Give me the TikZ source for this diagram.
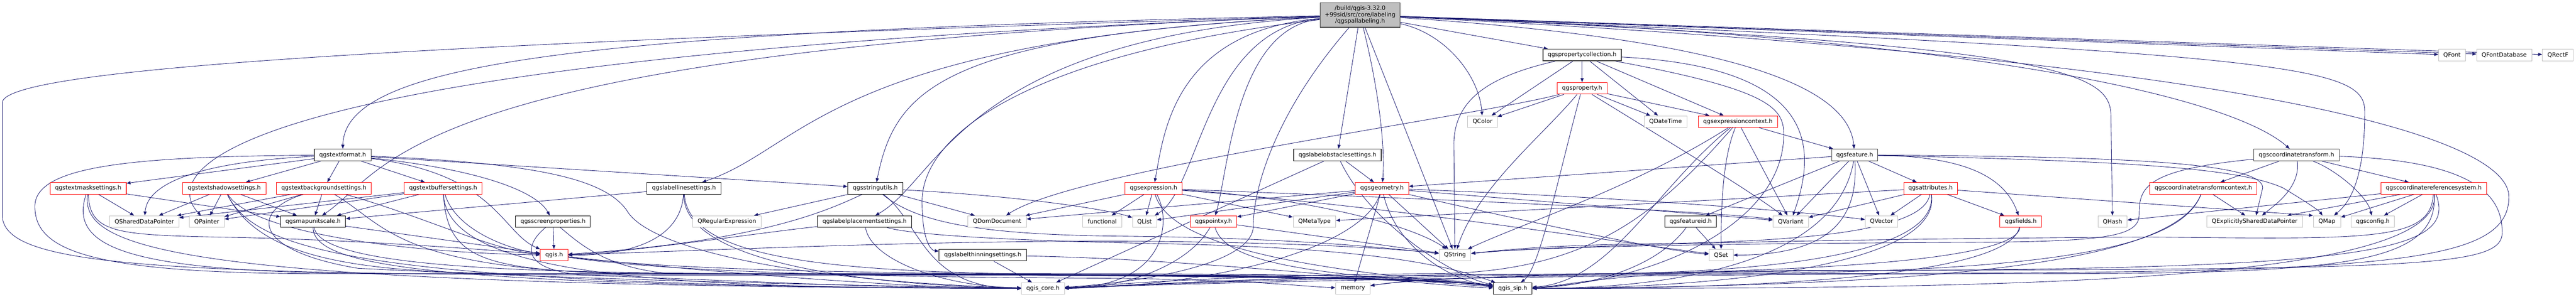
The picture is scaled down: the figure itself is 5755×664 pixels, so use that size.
\documentclass[tikz,border=0pt]{standalone}
\usepackage{fontspec}
\setmainfont{DejaVu Sans}
\usepackage{tikz}
\usetikzlibrary{arrows.meta}
\usetikzlibrary{backgrounds}
\definecolor{edgeblue}{HTML}{191970}
\definecolor{boxgrey}{HTML}{BFBFBF}
\definecolor{boxdark}{HTML}{404040}
\definecolor{boxred}{HTML}{FF0000}
\begin{document}
\begin{tikzpicture}[x=1pt,y=-1pt,
  incl/.style={draw=edgeblue,line width=1pt,-{Triangle[length=9pt,width=7pt]}},
  hdr/.style={draw=black,line width=1.2pt,fill=white,minimum height=26pt,inner sep=0pt,font=\fontsize{13}{14.5}\selectfont},
  hdrdark/.style={hdr,draw=boxdark,line width=1.6pt},
  hdrred/.style={hdr,draw=boxred},
  sysinc/.style={hdr,draw=boxgrey},
  rootfile/.style={hdr,draw=boxdark,fill=boxgrey,minimum height=55pt,align=center}]
\useasboundingbox (0,0) rectangle (5755,664);

%the labeling header at the top
\node[rootfile,minimum width=179] (top) at (3038.5,33.5) {/build/qgis-3.32.0\\+99sid/src/core/labeling\\/qgspallabeling.h};

%rank 1 to 3
\node[hdrdark,minimum width=175] (pcoll) at (3534.5,123) {qgspropertycollection.h};
\node[sysinc,minimum width=60] (qfont) at (5478,123) {QFont};
\node[sysinc,minimum width=123] (qfontdb) at (5594.5,123) {QFontDatabase};
\node[sysinc,minimum width=69] (qrectf) at (5714.5,123) {QRectF};
\node[hdrred,minimum width=111] (prop) at (3534.5,197.5) {qgsproperty.h};
\node[sysinc,minimum width=66] (qcolor) at (3312,272) {QColor};
\node[sysinc,minimum width=96] (qdatetime) at (3721,272) {QDateTime};
\node[hdrred,minimum width=177] (exprctx) at (3882.5,272) {qgsexpressioncontext.h};

%rank 4
\node[hdrdark,minimum width=127] (textformat) at (765.5,346.5) {qgstextformat.h};
\node[hdrdark,minimum width=196] (obstacle) at (2988,346.5) {qgslabelobstaclesettings.h};
\node[hdrdark,minimum width=103] (feature) at (4143.5,346.5) {qgsfeature.h};
\node[hdrdark,minimum width=191] (ctransform) at (5130.5,346.5) {qgscoordinatetransform.h};

%rank 5
\node[hdrred,minimum width=170] (textmask) at (197,421) {qgstextmasksettings.h};
\node[hdrred,minimum width=186] (textshadow) at (501,421) {qgstextshadowsettings.h};
\node[hdrred,minimum width=211] (textbg) at (723.5,421) {qgstextbackgroundsettings.h};
\node[hdrred,minimum width=174] (textbuffer) at (990,421) {qgstextbuffersettings.h};
\node[hdr,minimum width=166] (lineset) at (1528,421) {qgslabellinesettings.h};
\node[hdr,minimum width=123] (strutils) at (1955.5,421) {qgsstringutils.h};
\node[hdrred,minimum width=128] (expression) at (2577,421) {qgsexpression.h};
\node[hdrred,minimum width=119] (geometry) at (3087.5,421) {qgsgeometry.h};
\node[hdrred,minimum width=120] (attributes) at (4313,421) {qgsattributes.h};
\node[hdrred,minimum width=239] (ctcontext) at (4922.5,421) {qgscoordinatetransformcontext.h};
\node[hdrred,minimum width=236] (crs) at (5437,421) {qgscoordinatereferencesystem.h};

%rank 6
\node[sysinc,minimum width=155] (qshared) at (322.5,495.5) {QSharedDataPointer};
\node[sysinc,minimum width=78] (qpainter) at (462,495.5) {QPainter};
\node[hdr,minimum width=145] (mapunit) at (699.5,495.5) {qgsmapunitscale.h};
\node[hdr,minimum width=167] (screen) at (1235.5,495.5) {qgsscreenproperties.h};
\node[sysinc,minimum width=154] (qregexp) at (1624,495.5) {QRegularExpression};
\node[hdr,minimum width=211] (placement) at (1931.5,495.5) {qgslabelplacementsettings.h};
\node[sysinc,minimum width=131] (qdom) at (2227.5,495.5) {QDomDocument};
\node[sysinc,minimum width=87] (functional) at (2462.5,495.5) {functional};
\node[sysinc,minimum width=54] (qlist) at (2557,495.5) {QList};
\node[hdrred,minimum width=104] (pointxy) at (2711,495.5) {qgspointxy.h};
\node[sysinc,minimum width=95] (qmetatype) at (2936.5,495.5) {QMetaType};
\node[hdr,minimum width=116] (featureid) at (3777,495.5) {qgsfeatureid.h};
\node[sysinc,minimum width=79] (qvariant) at (4000.5,495.5) {QVariant};
\node[sysinc,minimum width=73] (qvector) at (4203.5,495.5) {QVector};
\node[hdrred,minimum width=93] (fields) at (4514.5,495.5) {qgsfields.h};
\node[sysinc,minimum width=65] (qhash) at (4719.5,495.5) {QHash};
\node[sysinc,minimum width=214] (qexpl) at (5037,495.5) {QExplicitlySharedDataPointer};
\node[sysinc,minimum width=61] (qmap) at (5198.5,495.5) {QMap};
\node[sysinc,minimum width=96] (qgsconfig) at (5301,495.5) {qgsconfig.h};

%rank 7 and 8
\node[hdrred,minimum width=62] (qgis) at (1238,570.5) {qgis.h};
\node[hdr,minimum width=195] (thinning) at (2195.5,570.5) {qgslabelthinningsettings.h};
\node[sysinc,minimum width=71] (qstring) at (3250.5,570.5) {QString};
\node[sysinc,minimum width=54] (qset) at (3845,570.5) {QSet};
\node[sysinc,minimum width=96] (qgiscore) at (2330,645) {qgis\_core.h};
\node[sysinc,minimum width=77] (memory) at (3022.5,645) {memory};
\node[hdr,minimum width=87] (qgissip) at (3379.5,645) {qgis\_sip.h};

\begin{pgfonlayer}{background}
%includes of the top header
\draw[incl] (top) -- (pcoll);
\draw[incl] (top) -- (qfont);
\draw[incl] (top) -- (qfontdb);
\draw[incl] (top) -- (qrectf);
\draw[incl] (top) .. controls (3230,75) and (3305,170) .. (qcolor);
\draw[incl] (top) .. controls (1300,70) and (770,140) .. (textformat);
\draw[incl] (top) -- (obstacle);
\draw[incl] (top) .. controls (3900,90) and (4130,200) .. (feature);
\draw[incl] (top) .. controls (4500,85) and (5000,230) .. (ctransform);
\draw[incl] (top) .. controls (2100,80) and (2000,200) .. (strutils);
\draw[incl] (top) .. controls (1850,90) and (1800,330) .. (lineset);
\draw[incl] (top) .. controls (900,110) and (870,380) .. (mapunit);
\draw[incl] (top) .. controls (380,130) and (370,400) .. (qpainter);
\draw[incl] (top) .. controls (2150,85) and (2100,400) .. (placement);
\draw[incl] (top) .. controls (2620,70) and (2600,300) .. (expression);
\draw[incl] (top) .. controls (2690,65) and (2683,420) .. (qlist);
\draw[incl] (top) .. controls (2760,62) and (2745,380) .. (pointxy);
\draw[incl] (top) .. controls (3080,200) and (3095,330) .. (geometry);
\draw[incl] (top) -- (qstring);
\draw[incl] (top) .. controls (4600,100) and (4716,160) .. (4716,260) -- (qhash);
\draw[incl] (top) .. controls (5150,120) and (5283,150) .. (5283,250) .. controls (5283,420) and (5240,460) .. (qmap);
\draw[incl] (top) .. controls (2300,120) and (2060,300) .. (2060,450) .. controls (2060,540) and (2080,560) .. (thinning);
\draw[incl] (top) .. controls (2850,250) and (2800,420) .. (2800,505) .. controls (2800,600) and (2500,635) .. (qgiscore);
\draw[incl] (top) .. controls (1000,95) and (5,150) .. (5,230) -- (5,480) .. controls (5,590) and (300,615) .. (1500,615) .. controls (2600,615) and (3150,615) .. (qgissip);
\draw[incl] (top) .. controls (5000,130) and (5605,300) .. (5605,440) .. controls (5605,600) and (5300,610) .. (4000,612) .. controls (3300,615) and (3150,625) .. (memory);

%property collection and property
\draw[incl] (pcoll) -- (prop);
\draw[incl] (pcoll) -- (qcolor);
\draw[incl] (pcoll) -- (qdatetime);
\draw[incl] (pcoll) -- (exprctx);
\draw[incl] (pcoll) .. controls (4060,150) and (4060,330) .. (qvariant);
\draw[incl] (pcoll) .. controls (3330,170) and (3250,220) .. (3248,320) -- (qstring);
\draw[incl] (pcoll) .. controls (3950,200) and (3985,240) .. (3985,300) .. controls (3985,500) and (3700,630) .. (qgissip);
\draw[incl] (prop) -- (qcolor);
\draw[incl] (prop) -- (qdatetime);
\draw[incl] (prop) -- (exprctx);
\draw[incl] (prop) .. controls (3700,300) and (3900,420) .. (qvariant);
\draw[incl] (prop) .. controls (3450,300) and (3300,420) .. (qstring);
\draw[incl] (prop) .. controls (3480,400) and (3440,600) .. (qgissip);
\draw[incl] (prop) .. controls (3300,260) and (2400,380) .. (qdom);

%expression context
\draw[incl] (exprctx) -- (feature);
\draw[incl] (exprctx) -- (qvariant);
\draw[incl] (exprctx) .. controls (3850,350) and (3845,450) .. (qset);
\draw[incl] (exprctx) .. controls (3650,420) and (3400,500) .. (qstring);
\draw[incl] (exprctx) .. controls (3700,480) and (3550,610) .. (3200,612) .. controls (2700,615) and (2450,640) .. (qgiscore);
\draw[incl] (exprctx) .. controls (3700,420) and (3600,630) .. (qgissip);

%feature and its parts
\draw[incl] (feature) -- (attributes);
\draw[incl] (feature) -- (qvector);
\draw[incl] (feature) .. controls (4400,350) and (4480,400) .. (fields);
\draw[incl] (feature) -- (qvariant);
\draw[incl] (feature) -- (featureid);
\draw[incl] (feature) -- (geometry);
\draw[incl] (feature) .. controls (4150,470) and (4110,570) .. (qset);
\draw[incl] (feature) .. controls (4700,350) and (5055,360) .. (5055,420) -- (qexpl);
\draw[incl] (feature) .. controls (4750,360) and (5000,375) .. (5100,420) .. controls (5150,450) and (5180,470) .. (qmap);
\draw[incl] (feature) .. controls (4100,600) and (3700,645) .. (qgissip);
\draw[incl] (attributes) -- (qvector);
\draw[incl] (attributes) -- (fields);
\draw[incl] (attributes) -- (qmap.north west);
\draw[incl] (attributes) -- (qvariant);
\draw[incl] (attributes) -- (qmetatype);
\draw[incl] (attributes) .. controls (4300,520) and (4000,540) .. (3700,545) .. controls (3450,548) and (3350,560) .. (qstring);
\draw[incl] (attributes) .. controls (4330,560) and (4000,612) .. (3500,613) .. controls (2900,615) and (2500,640) .. (qgiscore);
\draw[incl] (attributes) .. controls (4340,600) and (3800,645) .. (qgissip);
\draw[incl] (fields) .. controls (4500,600) and (3800,612) .. (3400,613) .. controls (2900,615) and (2500,640) .. (qgiscore);
\draw[incl] (fields) .. controls (4480,640) and (3700,645) .. (qgissip);
\draw[incl] (featureid) -- (qset);
\draw[incl] (featureid) .. controls (3700,600) and (3550,640) .. (qgissip);

%coordinate transform and reference system
\draw[incl] (ctransform) -- (ctcontext);
\draw[incl] (ctransform) .. controls (5140,420) and (5080,460) .. (qexpl);
\draw[incl] (ctransform) -- (crs);
\draw[incl] (ctransform) .. controls (5220,380) and (5290,440) .. (qgsconfig);
\draw[incl] (ctransform) .. controls (4790,380) and (4779,420) .. (4779,480) .. controls (4779,530) and (4700,540) .. (4400,542) .. controls (3700,545) and (3400,555) .. (qstring);
\draw[incl] (ctransform) .. controls (5550,360) and (5590,450) .. (5590,520) .. controls (5590,600) and (5400,602) .. (4000,605) .. controls (3600,607) and (3500,640) .. (qgissip);
\draw[incl] (ctcontext) -- (qexpl);
\draw[incl] (ctcontext) .. controls (4880,530) and (4700,600) .. (4000,610) .. controls (3000,614) and (2500,640) .. (qgiscore);
\draw[incl] (ctcontext) .. controls (4860,580) and (4400,640) .. (qgissip);
\draw[incl] (crs) -- (qgsconfig);
\draw[incl] (crs) -- (qmap);
\draw[incl] (crs) -- (qhash);
\draw[incl] (crs) -- (qexpl);
\draw[incl] (crs) .. controls (5430,540) and (5300,535) .. (4800,530) .. controls (4000,535) and (3450,550) .. (qstring);
\draw[incl] (crs) .. controls (5450,600) and (5200,612) .. (4500,612) .. controls (3200,614) and (2500,640) .. (qgiscore);
\draw[incl] (crs) .. controls (5460,640) and (4400,645) .. (qgissip);
\draw[incl] (crs) .. controls (5490,560) and (5300,600) .. (4200,605) .. controls (3400,610) and (3150,625) .. (memory);

%geometry, obstacles and expressions
\draw[incl] (geometry) -- (qstring);
\draw[incl] (geometry) -- (memory);
\draw[incl] (geometry) .. controls (3120,560) and (3250,630) .. (qgissip);
\draw[incl] (geometry) .. controls (3040,560) and (2700,640) .. (qgiscore);
\draw[incl] (geometry) -- (pointxy);
\draw[incl] (geometry) -- (qdom);
\draw[incl] (geometry) -- (qlist);
\draw[incl] (geometry) .. controls (3600,440) and (4000,470) .. (qvector);
\draw[incl] (geometry) -- (qvariant);
\draw[incl] (geometry) .. controls (3300,470) and (3700,560) .. (qset);
\draw[incl] (obstacle) -- (geometry);
\draw[incl] (obstacle) -- (qgiscore);
\draw[incl] (obstacle) .. controls (3060,500) and (3250,620) .. (qgissip);
\draw[incl] (expression) -- (qlist);
\draw[incl] (expression) -- (functional);
\draw[incl] (expression) -- (qmetatype);
\draw[incl] (expression) -- (qdom);
\draw[incl] (expression) .. controls (3200,445) and (3800,470) .. (qvariant);
\draw[incl] (expression) .. controls (3100,460) and (3600,540) .. (qset);
\draw[incl] (expression) .. controls (2900,440) and (3150,500) .. (qstring);
\draw[incl] (expression) .. controls (2620,500) and (2600,640) .. (qgiscore);
\draw[incl] (expression) .. controls (2620,580) and (3100,615) .. (qgissip);
\draw[incl] (pointxy) .. controls (2650,600) and (2500,645) .. (qgiscore);
\draw[incl] (pointxy) -- (qstring);
\draw[incl] (pointxy) .. controls (2740,600) and (3000,615) .. (qgissip);

%label settings and string utilities
\draw[incl] (strutils) -- (qdom);
\draw[incl] (strutils) -- (qregexp);
\draw[incl] (strutils) .. controls (1850,470) and (1700,540) .. (qgis);
\draw[incl] (strutils) .. controls (2300,440) and (2480,470) .. (qlist);
\draw[incl] (strutils) .. controls (2050,500) and (2200,525) .. (2500,528) .. controls (2900,532) and (3100,555) .. (qstring);
\draw[incl] (strutils) .. controls (2060,500) and (2060,645) .. (qgiscore);
\draw[incl] (lineset) .. controls (1520,540) and (1400,571) .. (qgis);
\draw[incl] (lineset) -- (mapunit);
\draw[incl] (lineset) .. controls (1525,600) and (2000,640) .. (qgiscore);
\draw[incl] (lineset) .. controls (1540,610) and (2000,615) .. (2700,615) .. controls (3100,615) and (3250,625) .. (qgissip);
\draw[incl] (placement) .. controls (1945,580) and (2100,640) .. (qgiscore);
\draw[incl] (placement) .. controls (1700,520) and (1400,565) .. (qgis);
\draw[incl] (placement) .. controls (2060,530) and (2350,540) .. (2600,545) .. controls (3100,555) and (3250,600) .. (qgissip);
\draw[incl] (thinning) -- (qgiscore);
\draw[incl] (thinning) .. controls (2700,580) and (3200,640) .. (qgissip);

%text format and its settings
\draw[incl] (textformat) -- (textmask);
\draw[incl] (textformat) -- (textshadow);
\draw[incl] (textformat) -- (textbg);
\draw[incl] (textformat) -- (textbuffer);
\draw[incl] (textformat) .. controls (480,360) and (330,400) .. (qshared);
\draw[incl] (textformat) .. controls (1080,380) and (1200,430) .. (screen);
\draw[incl] (textformat) .. controls (1110,390) and (1120,520) .. (qgis);
\draw[incl] (textformat) -- (strutils);
\draw[incl] (textformat) .. controls (300,350) and (80,370) .. (78,460) .. controls (76,560) and (200,610) .. (700,612) .. controls (2000,612) and (3150,615) .. (qgissip);
\draw[incl] (textformat) .. controls (1200,365) and (1350,400) .. (1400,470) .. controls (1450,560) and (1800,630) .. (qgiscore);
\draw[incl] (textmask) -- (qshared);
\draw[incl] (textmask) -- (mapunit);
\draw[incl] (textmask) .. controls (200,520) and (260,525) .. (480,530) .. controls (800,535) and (1100,560) .. (qgis);
\draw[incl] (textmask) .. controls (180,560) and (400,640) .. (qgiscore);
\draw[incl] (textmask) .. controls (150,560) and (300,612) .. (900,612) .. controls (2000,612) and (3150,615) .. (qgissip);
\draw[incl] (textshadow) -- (qshared);
\draw[incl] (textshadow) -- (qpainter);
\draw[incl] (textshadow) -- (mapunit);
\draw[incl] (textshadow) .. controls (560,520) and (900,565) .. (qgis);
\draw[incl] (textshadow) .. controls (570,560) and (800,640) .. (qgiscore);
\draw[incl] (textshadow) .. controls (580,580) and (800,612) .. (1200,612) .. controls (2000,612) and (3150,615) .. (qgissip);
\draw[incl] (textbg) -- (qshared);
\draw[incl] (textbg) -- (qpainter);
\draw[incl] (textbg) -- (mapunit);
\draw[incl] (textbg) .. controls (950,485) and (1100,560) .. (qgis);
\draw[incl] (textbg) .. controls (560,470) and (560,560) .. (800,600) .. controls (1400,630) and (2000,640) .. (qgiscore);
\draw[incl] (textbg) .. controls (860,500) and (880,600) .. (1400,612) .. controls (2200,612) and (3150,615) .. (qgissip);
\draw[incl] (textbuffer) -- (qshared);
\draw[incl] (textbuffer) -- (qpainter);
\draw[incl] (textbuffer) -- (mapunit);
\draw[incl] (textbuffer) .. controls (1020,520) and (1150,560) .. (qgis);
\draw[incl] (textbuffer) .. controls (1000,620) and (1500,645) .. (qgiscore);
\draw[incl] (textbuffer) .. controls (1000,600) and (1100,612) .. (1600,612) .. controls (2300,612) and (3150,615) .. (qgissip);

%unit scale, screen properties and qgis.h
\draw[incl] (mapunit) -- (qgis);
\draw[incl] (mapunit) .. controls (700,600) and (1000,640) .. (qgiscore);
\draw[incl] (mapunit) .. controls (720,610) and (1300,612) .. (1900,612) .. controls (2400,612) and (3150,615) .. (qgissip);
\draw[incl] (screen) -- (qgis);
\draw[incl] (screen) .. controls (1180,540) and (1150,600) .. (1300,615) .. controls (1700,630) and (2000,645) .. (qgiscore);
\draw[incl] (screen) .. controls (1290,540) and (1350,600) .. (1500,612) .. controls (2300,612) and (3150,615) .. (qgissip);
\draw[incl] (qgis) .. controls (1500,600) and (2000,645) .. (qgiscore);
\draw[incl] (qgis) .. controls (1500,605) and (2000,612) .. (2400,612) .. controls (2800,612) and (3150,615) .. (qgissip);
\draw[incl] (qgis) .. controls (1500,610) and (2000,620) .. (2450,622) .. controls (2800,625) and (2900,640) .. (memory);
\draw[incl] (qgis) .. controls (1600,560) and (2100,535) .. (2600,540) .. controls (3000,545) and (3150,560) .. (qstring);
\end{pgfonlayer}

\end{tikzpicture}
\end{document}
